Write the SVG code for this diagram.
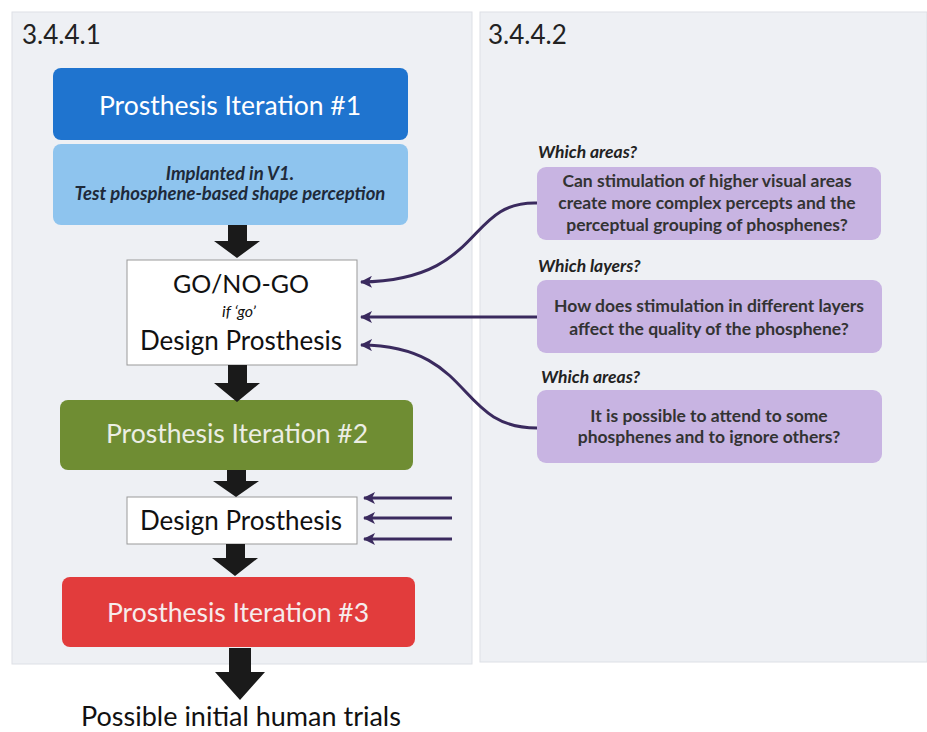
<svg xmlns="http://www.w3.org/2000/svg" width="927" height="732" viewBox="0 0 927 732">
<defs>
<style>
.t{font-family:Lato,"Open Sans","Liberation Sans",sans-serif;text-anchor:middle}
.h{font-size:26.5px;fill:#fff}
.q{font-size:17.5px;font-weight:bold;fill:#333}
.lab{font-family:Lato,"Open Sans","Liberation Sans",sans-serif;font-size:17.5px;font-style:italic;font-weight:bold;fill:#222}
.blk{fill:#1a1a1a}
.con{fill:none;stroke:#3a2a5e;stroke-width:3}
.pb{fill:#c8b4e2}
.it{font-size:18.5px;font-style:italic;font-weight:bold;fill:#1e2a3a}
.dp{font-size:26px;fill:#111}
</style>
<marker id="ah" markerWidth="12" markerHeight="12" refX="11" refY="6" orient="auto" markerUnits="userSpaceOnUse">
<path d="M12,6 L0,0 L3,6 L0,12 Z" fill="#3a2a5e"/>
</marker>
</defs>
<rect width="927" height="732" fill="#fff"/>
<rect x="12" y="12" width="460" height="652" fill="#eef0f4" stroke="#dde0e6"/>
<rect x="480" y="12" width="447" height="650" fill="#eef0f4" stroke="#dde0e6"/>
<text x="22" y="44" style="font-family:Lato,'Open Sans','Liberation Sans',sans-serif;font-size:26px;fill:#222">3.4.4.1</text>
<text x="488" y="44" style="font-family:Lato,'Open Sans','Liberation Sans',sans-serif;font-size:26px;fill:#222">3.4.4.2</text>

<g id="iter1">
<rect x="53" y="68" width="355" height="72" rx="8" fill="#1f74cf"/>
<text class="t h" x="230" y="115">Prosthesis Iteration #1</text>
</g>
<g id="implant">
<rect x="53" y="144" width="355" height="81" rx="8" fill="#8ec4ee"/>
<text class="t it" x="230" y="180">Implanted in V1.</text>
<text class="t it" x="230" y="200">Test phosphene-based shape perception</text>
</g>
<g id="gonogo">
<rect x="127" y="260" width="230" height="105" fill="#fff" stroke="#999" stroke-width="1"/>
<text class="t" x="241" y="293" style="font-size:25px;fill:#111">GO/NO-GO</text>
<text class="t" x="239" y="317" style="font-size:16px;font-style:italic;fill:#111">if ‘go’</text>
<text class="t dp" x="241" y="350">Design Prosthesis</text>
</g>
<g id="iter2">
<rect x="60" y="400" width="353" height="70" rx="8" fill="#6f8d33"/>
<text class="t h" x="237" y="443" style="fill:#eceee4">Prosthesis Iteration #2</text>
</g>
<g id="design2">
<rect x="127" y="497" width="230" height="47" fill="#fff" stroke="#999" stroke-width="1"/>
<text class="t dp" x="241" y="530">Design Prosthesis</text>
</g>
<g id="iter3">
<rect x="62" y="577" width="353" height="70" rx="8" fill="#e23c3c"/>
<text class="t h" x="238" y="622" style="fill:#f6ecec">Prosthesis Iteration #3</text>
</g>
<g id="trials">
<text class="t" x="241" y="726" style="font-size:27px;fill:#111">Possible initial human trials</text>
</g>

<g id="q1">
<text class="lab" x="538" y="158">Which areas?</text>
<rect class="pb" x="537" y="167" width="344" height="73" rx="9"/>
<text class="t q" x="707" y="187">Can stimulation of higher visual areas</text>
<text class="t q" x="707" y="209">create more  complex percepts and the</text>
<text class="t q" x="707" y="231">perceptual grouping of phosphenes?</text>
</g>
<g id="q2">
<text class="lab" x="538" y="272">Which layers?</text>
<rect class="pb" x="537" y="280" width="345" height="73" rx="9"/>
<text class="t q" x="709" y="312">How does stimulation in different layers</text>
<text class="t q" x="709" y="335">affect the quality of the phosphene?</text>
</g>
<g id="q3">
<text class="lab" x="541" y="383">Which areas?</text>
<rect class="pb" x="537" y="390" width="345" height="73" rx="9"/>
<text class="t q" x="709" y="422">It is possible to attend to some</text>
<text class="t q" x="709" y="443">phosphenes and to ignore others?</text>
</g>

<g id="connectors">
<path class="blk" d="M228,225 H247 V241 H260 L237,258 L214,241 H228 Z"/>
<path class="blk" d="M228,365 H247 V383 H260 L237,402 L214,383 H228 Z"/>
<path class="blk" d="M227,470 H246 V481 H259 L236,497 L213,481 H227 Z"/>
<path class="blk" d="M226,544 H245 V558 H258 L235,576 L212,558 H226 Z"/>
<path class="blk" d="M229,648 H251 V672 H265 L240,700 L215,672 H229 Z"/>
<path class="con" d="M537,203 C465,201 485,280 361,282" marker-end="url(#ah)"/>
<path class="con" d="M537,317 L361,317" marker-end="url(#ah)"/>
<path class="con" d="M537,428 C455,428 475,346 361,345" marker-end="url(#ah)"/>
<path class="con" d="M452,498 L364,498" marker-end="url(#ah)"/>
<path class="con" d="M452,518 L364,518" marker-end="url(#ah)"/>
<path class="con" d="M452,539 L364,539" marker-end="url(#ah)"/>
</g>
</svg>
